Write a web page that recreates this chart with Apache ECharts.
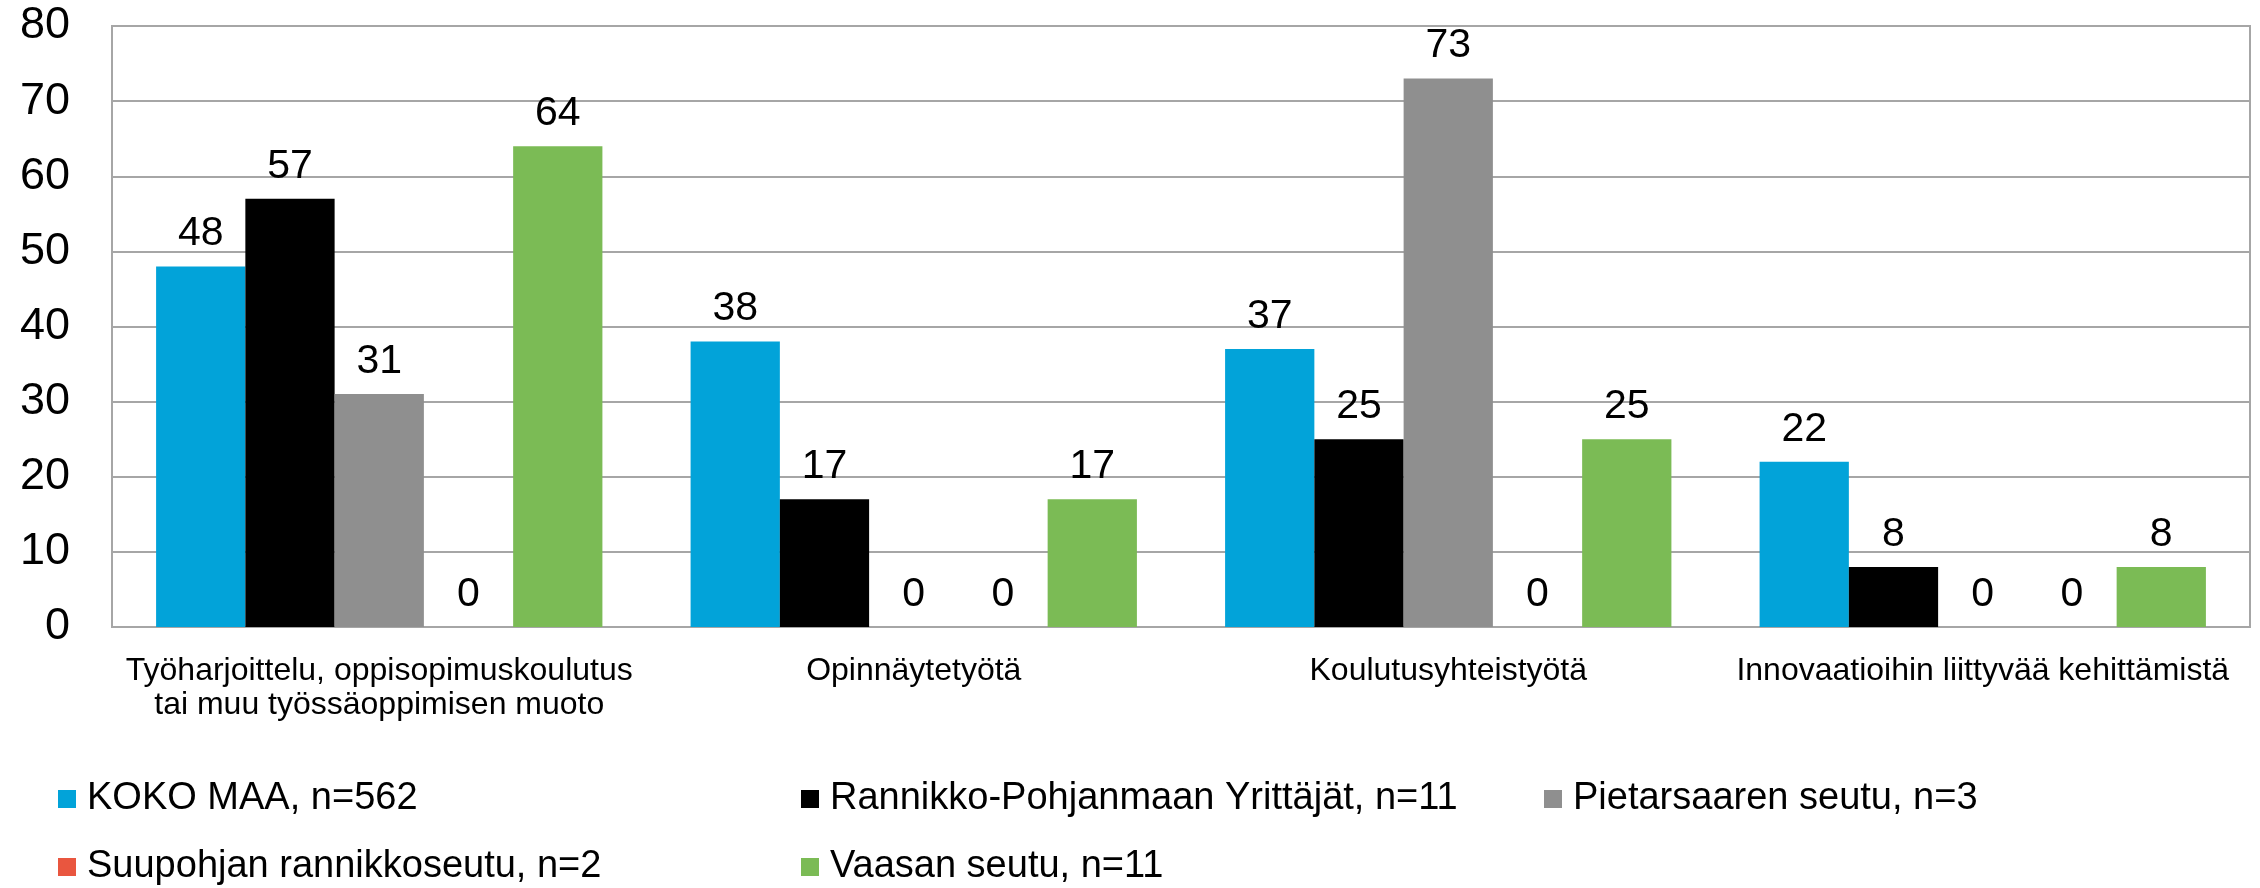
<!DOCTYPE html>
<html>
<head>
<meta charset="utf-8">
<script src="https://cdn.jsdelivr.net/npm/echarts@6/dist/echarts.min.js"></script>
<style>
  html, body { margin: 0; padding: 0; background: #fff; }
  #main { width: 2260px; height: 888px; }
</style>
</head>
<body>
<div id="main"></div>
<script>
const categories = [
    'Työharjoittelu, oppisopimuskoulutus\ntai muu työssäoppimisen muoto',
    'Opinnäytetyötä',
    'Koulutusyhteistyötä',
    'Innovaatioihin liittyvää kehittämistä'
];
const kokoMaa = [48, 38, 37, 22];
const rannikko = [57, 17, 25, 8];
const pietarsaari = [31, 0, 73, 0];
const suupohja = [0, 0, 0, 0];
const vaasa = [64, 17, 25, 8];

const seriesNames = [
    'KOKO MAA, n=562',
    'Rannikko-Pohjanmaan Yrittäjät, n=11',
    'Pietarsaaren seutu, n=3',
    'Suupohjan rannikkoseutu, n=2',
    'Vaasan seutu, n=11'
];
const seriesData = [kokoMaa, rannikko, pietarsaari, suupohja, vaasa];
const colors = ['#02A3D9', '#000000', '#8F8F8F', '#E9563F', '#7BBB55'];

const font = '"Liberation Sans", Arial, sans-serif';

function legendCol(left, names) {
    return {
        data: names,
        left: left,
        top: 779,
        orient: 'vertical',
        padding: 0,
        itemGap: 28,
        itemWidth: 18,
        itemHeight: 18,
        icon: 'rect',
        textStyle: { fontFamily: font, fontSize: 38, color: '#000', lineHeight: 40, padding: [0, 0, 0, 6] }
    };
}

const chart = echarts.init(document.getElementById('main'));
const option = {
    animation: false,
    color: colors,
    grid: {
        left: 112, right: 10, top: 26, bottom: 261,
        show: true, borderColor: '#A6A6A6', borderWidth: 2
    },
    legend: [
        legendCol(58, [seriesNames[0], seriesNames[3]]),
        legendCol(801, [seriesNames[1], seriesNames[4]]),
        legendCol(1544, [seriesNames[2]])
    ],
    xAxis: {
        type: 'category',
        data: categories,
        axisLine: { lineStyle: { color: '#A6A6A6', width: 2 } },
        axisTick: { show: false },
        axisLabel: {
            interval: 0, margin: 27, fontFamily: font, fontSize: 32,
            lineHeight: 34, color: '#000'
        }
    },
    yAxis: {
        type: 'value',
        min: 0, max: 80, interval: 10,
        axisLine: { show: true, lineStyle: { color: '#A6A6A6', width: 2 } },
        axisTick: { show: false },
        splitLine: { lineStyle: { color: '#A6A6A6', width: 2 } },
        axisLabel: { margin: 42, fontFamily: font, fontSize: 45, color: '#000' }
    },
    series: seriesNames.map((name, i) => ({
        name: name,
        type: 'bar',
        data: seriesData[i],
        barGap: '0%',
        barCategoryGap: '16.5%',
        label: {
            show: true, position: 'top', distance: 12,
            fontFamily: font, fontSize: 41, color: '#000'
        }
    }))
};

chart.setOption(option);
</script>
</body>
</html>
